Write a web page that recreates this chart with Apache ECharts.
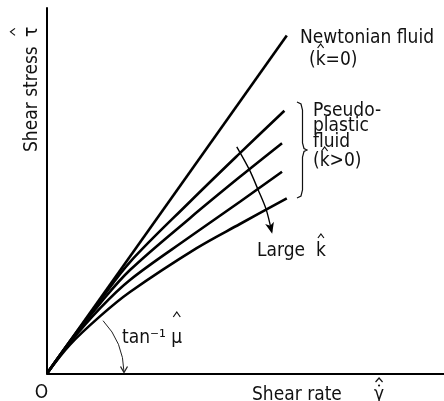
<!DOCTYPE html>
<html><head><meta charset="utf-8">
<script src="https://cdn.jsdelivr.net/npm/echarts@6/dist/echarts.min.js"></script>
<style>html,body{margin:0;padding:0;background:#fff}#c{width:444px;height:401px}</style>
</head><body><div id="c"></div>
<script>
// Newtonian fluid (k=0): straight line through origin
const newtonianRate = [0, 60.4];
const newtonianStress = [0, 92.5];
// Pseudoplastic fluids (k>0), from smallest k to largest k
const pseudoRate1 = [0, 5.8, 13.4, 20.9, 36.0, 48.6, 59.8];
const pseudoStress1 = [0, 8.8, 20.0, 30.5, 47.0, 60.3, 71.9];
const pseudoRate2 = [0, 5.8, 13.4, 20.9, 36.0, 48.6, 59.2];
const pseudoStress2 = [0, 8.8, 19.2, 28.3, 42.5, 53.8, 63.0];
const pseudoRate3 = [0, 5.8, 13.4, 20.9, 36.0, 48.6, 59.2];
const pseudoStress3 = [0, 8.5, 17.9, 25.6, 37.4, 47.0, 55.2];
const pseudoRate4 = [0, 5.8, 13.4, 20.9, 37.7, 48.6, 60.4];
const pseudoStress4 = [0, 7.9, 15.7, 22.3, 34.3, 40.9, 47.9];
// "Large k" arrow path
const arrowRate = [47.8, 51.0, 53.2, 55.2, 56.6];
const arrowStress = [62.0, 55.7, 50.2, 44.9, 38.8];

const zip = (xs, ys) => xs.map((x, i) => [x, ys[i]]);
const FONT = '19px "DejaVu Sans"';
const SX = 0.9;
const INK = '#111';

const mctx = document.createElement('canvas').getContext('2d');
mctx.font = FONT;
const tw = s => mctx.measureText(s).width * SX;

function curve(name, xs, ys) {
  return {
    name, type: 'line', data: zip(xs, ys), smooth: 0.35, showSymbol: false,
    lineStyle: { color: '#000', width: 2.6 }, silent: true
  };
}

const chart = echarts.init(document.getElementById('c'), null, { renderer: 'canvas' });
chart.setOption({
  animation: false,
  backgroundColor: '#fff',
  grid: { left: 47, right: 0, top: 8, bottom: 27.5, outerBoundsMode: 'none' },
  xAxis: {
    type: 'value', min: 0, max: 100,
    axisLine: { show: true, onZero: false, lineStyle: { color: '#000', width: 2 } },
    axisTick: { show: false }, axisLabel: { show: false }, splitLine: { show: false }
  },
  yAxis: {
    type: 'value', min: 0, max: 100,
    axisLine: { show: true, onZero: false, lineStyle: { color: '#000', width: 2 } },
    axisTick: { show: false }, axisLabel: { show: false }, splitLine: { show: false }
  },
  series: [
    curve('Newtonian', newtonianRate, newtonianStress),
    curve('k1', pseudoRate1, pseudoStress1),
    curve('k2', pseudoRate2, pseudoStress2),
    curve('k3', pseudoRate3, pseudoStress3),
    curve('k4', pseudoRate4, pseudoStress4),
    {
      name: 'Large k', type: 'line', data: zip(arrowRate, arrowStress), smooth: 0.3,
      showSymbol: false, lineStyle: { color: '#000', width: 1.4 }, silent: true
    }
  ]
});

const o = chart.convertToPixel({ gridIndex: 0 }, [0, 0]);
const R = 77;
const a0 = -0.756;
function txt(text, x, y, extra) {
  const el = {
    type: 'text', x, y, scaleX: SX, z: 10,
    style: { text, font: FONT, fill: INK, align: 'left', verticalAlign: 'middle' }
  };
  if (extra) {
    if (extra.rotation !== undefined) el.rotation = extra.rotation;
    if (extra.align) el.style.align = extra.align;
  }
  return el;
}
// circumflex accent: apex at (x, y), opening downward
function hat(x, y, w, h) {
  return {
    type: 'polyline', z: 11,
    shape: { points: [[x - w / 2, y + h], [x, y], [x + w / 2, y + h]] },
    style: { stroke: INK, lineWidth: 1.2, fill: null }
  };
}

const g = [];
g.push(txt('Newtonian fluid', 300, 38));
g.push(txt('(k=0)', 309, 60));
g.push(hat(309 + tw('(') + tw('k') / 2, 44, 6, 4));
g.push(txt('Pseudo-', 313, 111));
g.push(txt('plastic', 313, 126));
g.push(txt('fluid', 313, 142));
g.push(txt('(k>0)', 313, 161));
g.push(hat(313 + tw('(') + tw('k') / 2, 147, 6, 4));
g.push(txt('Large  k', 257, 251));
g.push(hat(257 + tw('Large  ') + tw('k') / 2, 234, 6, 4));
g.push(txt('tan\u207B\u00B9 \u03BC', 122, 338));
g.push(hat(122 + tw('tan\u207B\u00B9 ') + tw('\u03BC') / 2, 312, 7, 5));
g.push(txt('O', 41.5, 393, { align: 'center' }));
g.push(txt('Shear rate', 252, 395));
g.push(txt('\u03B3', 374, 395));
const gx = 374 + tw('\u03B3') / 2;
g.push(hat(gx, 378, 7, 4));
g.push({ type: 'circle', z: 10, shape: { cx: gx, cy: 385.5, r: 1.1 }, style: { fill: INK } });
g.push(txt('Shear stress', 32, 152, { rotation: Math.PI / 2 }));
g.push(txt('\u03C4', 32, 37, { rotation: Math.PI / 2 }));
const ty = 37 - tw('\u03C4') / 2;
g.push({
  type: 'polyline', z: 10,
  shape: { points: [[15, ty - 3.5], [10.5, ty], [15, ty + 3.5]] },
  style: { stroke: INK, lineWidth: 1.2, fill: null }
});

// brace
g.push({
  type: 'polyline', z: 10,
  shape: { points: [[297, 102], [301, 104], [302.5, 110], [302.5, 143], [304, 148.5], [307, 150], [304, 151.5], [302.5, 157], [302.5, 190], [301, 196], [297, 198]] },
  style: { stroke: INK, lineWidth: 1.2, fill: null }
});
// angle arc with arrow
g.push({
  type: 'arc', z: 10,
  shape: { cx: o[0], cy: o[1], r: R, startAngle: a0, endAngle: -0.02, clockwise: true },
  style: { stroke: '#222', lineWidth: 1, fill: null }
});
g.push({
  type: 'polyline', z: 10,
  shape: { points: [[o[0] + R - 3.5, o[1] - 7], [o[0] + R, o[1] - 1], [o[0] + R + 3.5, o[1] - 7]] },
  style: { stroke: '#222', lineWidth: 1.3, fill: null }
});
// arrowhead of the "Large k" arrow
const n = arrowRate.length;
const pA = chart.convertToPixel({ gridIndex: 0 }, [arrowRate[n - 2], arrowStress[n - 2]]);
const pB = chart.convertToPixel({ gridIndex: 0 }, [arrowRate[n - 1], arrowStress[n - 1]]);
const dx = pB[0] - pA[0], dy = pB[1] - pA[1];
const L = Math.hypot(dx, dy), ux = dx / L, uy = dy / L;
const tip = [pB[0] + ux * 2, pB[1] + uy * 2];
const back = [tip[0] - ux * 11, tip[1] - uy * 11];
g.push({
  type: 'polygon', z: 10,
  shape: { points: [tip, [back[0] - uy * 4.5, back[1] + ux * 4.5], [back[0] + ux * 3, back[1] + uy * 3], [back[0] + uy * 4.5, back[1] - ux * 4.5]] },
  style: { fill: '#000' }
});
chart.setOption({ graphic: g });
</script></body></html>
